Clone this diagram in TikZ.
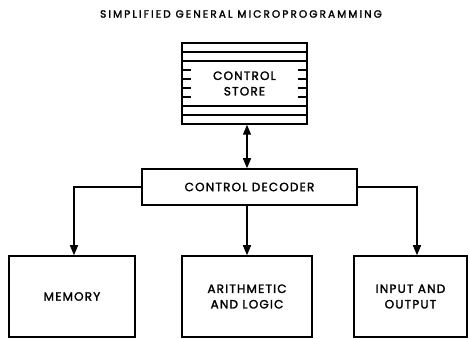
\documentclass[tikz,border=0pt]{standalone}
\usepackage{fontspec}
\setmainfont{Poppins}
\newfontfamily\titlefont{Poppins}[FakeBold=2,LetterSpace=20]
\newfontfamily\boxfont{Poppins}[FakeBold=2,LetterSpace=10]
\usetikzlibrary{arrows.meta,calc}
\begin{document}
\begin{tikzpicture}[x=1pt,y=-1pt,
  box/.style={draw,line width=1.5pt,inner sep=0pt,align=center,font=\boxfont\fontsize{12}{15.5}\selectfont},
  conn/.style={line width=1.4pt,-{Triangle[length=10pt,width=8pt]}},
  rule/.style={line width=1.1pt}]
\useasboundingbox (0,0) rectangle (469,339);

\node[font=\titlefont\fontsize{10.5}{12}\selectfont] (title) at (241,14) {SIMPLIFIED GENERAL MICROPROGRAMMING};

% control store with its stacked word lines
\node[box,minimum width=125pt,minimum height=81pt] (store) at (244.5,83.5) {CONTROL\\STORE};
\foreach \yy in {52,61,106,115}
  \draw[rule] (182,\yy) -- (307,\yy);
\foreach \yy in {70,79,88,97}{
  \draw[rule] (182,\yy) -- (191,\yy);
  \draw[rule] (298,\yy) -- (307,\yy);
}

\node[box,minimum width=215pt,minimum height=36pt] (dec) at (249.5,187) {CONTROL DECODER};

\node[box,minimum width=126pt,minimum height=81pt] (mem) at (72,296.5) {MEMORY};
\node[box,minimum width=130pt,minimum height=81pt] (alu) at (247,296.5) {ARITHMETIC\\AND LOGIC};
\node[box,minimum width=113pt,minimum height=81pt] (io) at (410.5,296.5) {INPUT AND\\OUTPUT};

\draw[line width=1.4pt,{Triangle[length=10pt,width=8pt]}-{Triangle[length=10pt,width=8pt]}]
  ([xshift=2.5pt]store.south) -- ([xshift=2.5pt]store.south |- dec.north);
\draw[conn] (dec.west) -| ([xshift=2pt]mem.north);
\draw[conn] (dec.south -| alu.north) -- (alu.north);
\draw[conn] (dec.east) -| ([xshift=6.5pt]io.north);
\end{tikzpicture}
\end{document}
